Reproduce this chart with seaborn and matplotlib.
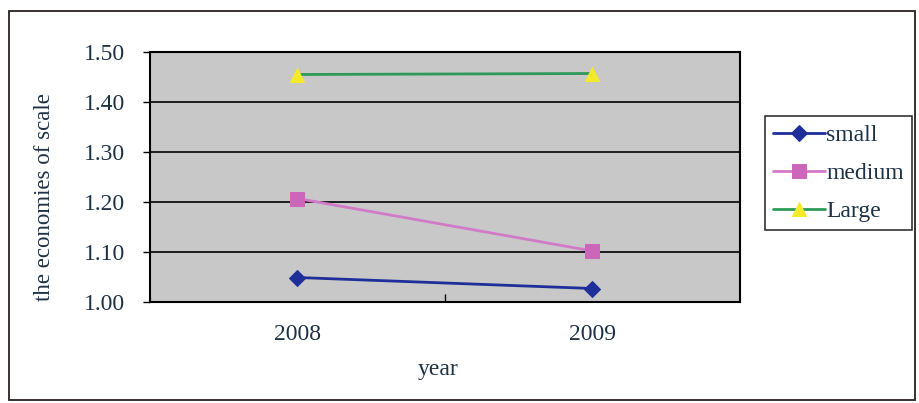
import matplotlib
matplotlib.use("Agg")
import matplotlib.pyplot as plt
from matplotlib.patches import Rectangle
from matplotlib.ticker import FormatStrFormatter, FixedLocator
import seaborn as sns
import pandas as pd

years = ["2008", "2009"]
small = [1.049, 1.027]
medium = [1.207, 1.102]
large = [1.455, 1.457]
series_names = ["small", "medium", "Large"]
yticks = [1.00, 1.10, 1.20, 1.30, 1.40, 1.50]

rows = []
for name, vals in zip(series_names, [small, medium, large]):
    for i, (y, v) in enumerate(zip(years, vals)):
        rows.append({"year": i, "value": v, "size": name})
df = pd.DataFrame(rows)

sns.set_theme(style="white")
plt.rcParams['font.family'] = ['Liberation Serif', 'DejaVu Serif']
text_color = "#1e3246"

fig = plt.figure(figsize=(9.2, 4.03), dpi=100)
ax = fig.add_axes([150/920, 1-302/403, 590/920, 250/403])
ax.set_facecolor("#C8C8C8")

line_colors = {"small": "#1f2f9a", "medium": "#d27ac8", "Large": "#2e9a5a"}
marker_face = {"small": "#1f2f9a", "medium": "#cc66bb", "Large": "#f5ea2a"}
markers = {"small": "D", "medium": "s", "Large": "^"}
msize = {"small": 8, "medium": 10, "Large": 10}

for name in series_names:
    sub = df[df["size"] == name]
    sns.lineplot(data=sub, x="year", y="value", ax=ax, color=line_colors[name],
                 linewidth=2, marker=markers[name], markersize=msize[name],
                 markerfacecolor=marker_face[name], markeredgecolor=marker_face[name],
                 label=name, zorder=3)

ax.set_xlim(-0.5, 1.5)
ax.set_ylim(1.0, 1.5)
ax.set_yticks(yticks)
ax.yaxis.set_major_formatter(FormatStrFormatter("%.2f"))
ax.set_xticks([0, 1])
ax.set_xticklabels(years)
ax.xaxis.set_minor_locator(FixedLocator([0.5]))
ax.tick_params(axis="x", which="major", length=0, pad=16, labelsize=17, labelcolor=text_color)
ax.tick_params(axis="x", which="minor", length=6, width=1, direction="in", color="black", bottom=True)
ax.tick_params(axis="y", which="major", length=5, width=1, direction="out", left=True, color="black",
               pad=13, labelsize=17, labelcolor=text_color)

ax.grid(axis="y", color="black", linewidth=1.2, zorder=1)
ax.grid(axis="x", visible=False)
ax.set_axisbelow(True)
for sp in ax.spines.values():
    sp.set_color("black")
    sp.set_linewidth(1.5)

ax.set_xlabel("year", fontsize=17, color=text_color, va="center")
ax.set_ylabel("the economies of scale", fontsize=16.5, color=text_color, va="center")
ax.xaxis.set_label_coords((438-150)/590, (302-369)/250)
ax.yaxis.set_label_coords((45-150)/590, (302-197)/250)

leg = ax.legend(loc="upper left", bbox_to_anchor=(765/920, 1-116/403), bbox_transform=fig.transFigure,
                borderaxespad=0, frameon=True, fancybox=False, edgecolor="black", fontsize=17,
                handlelength=2.2, handletextpad=0.05, labelspacing=0.7, borderpad=0.35)
leg.get_frame().set_linewidth(1.2)
for t in leg.get_texts():
    t.set_color(text_color)

fig.patches.append(Rectangle((9/920, 1-400/403), (915-9)/920, (400-11)/403, transform=fig.transFigure,
                             fill=False, edgecolor="#2a2020", linewidth=1.3))

fig.savefig("out.png", dpi=100)
